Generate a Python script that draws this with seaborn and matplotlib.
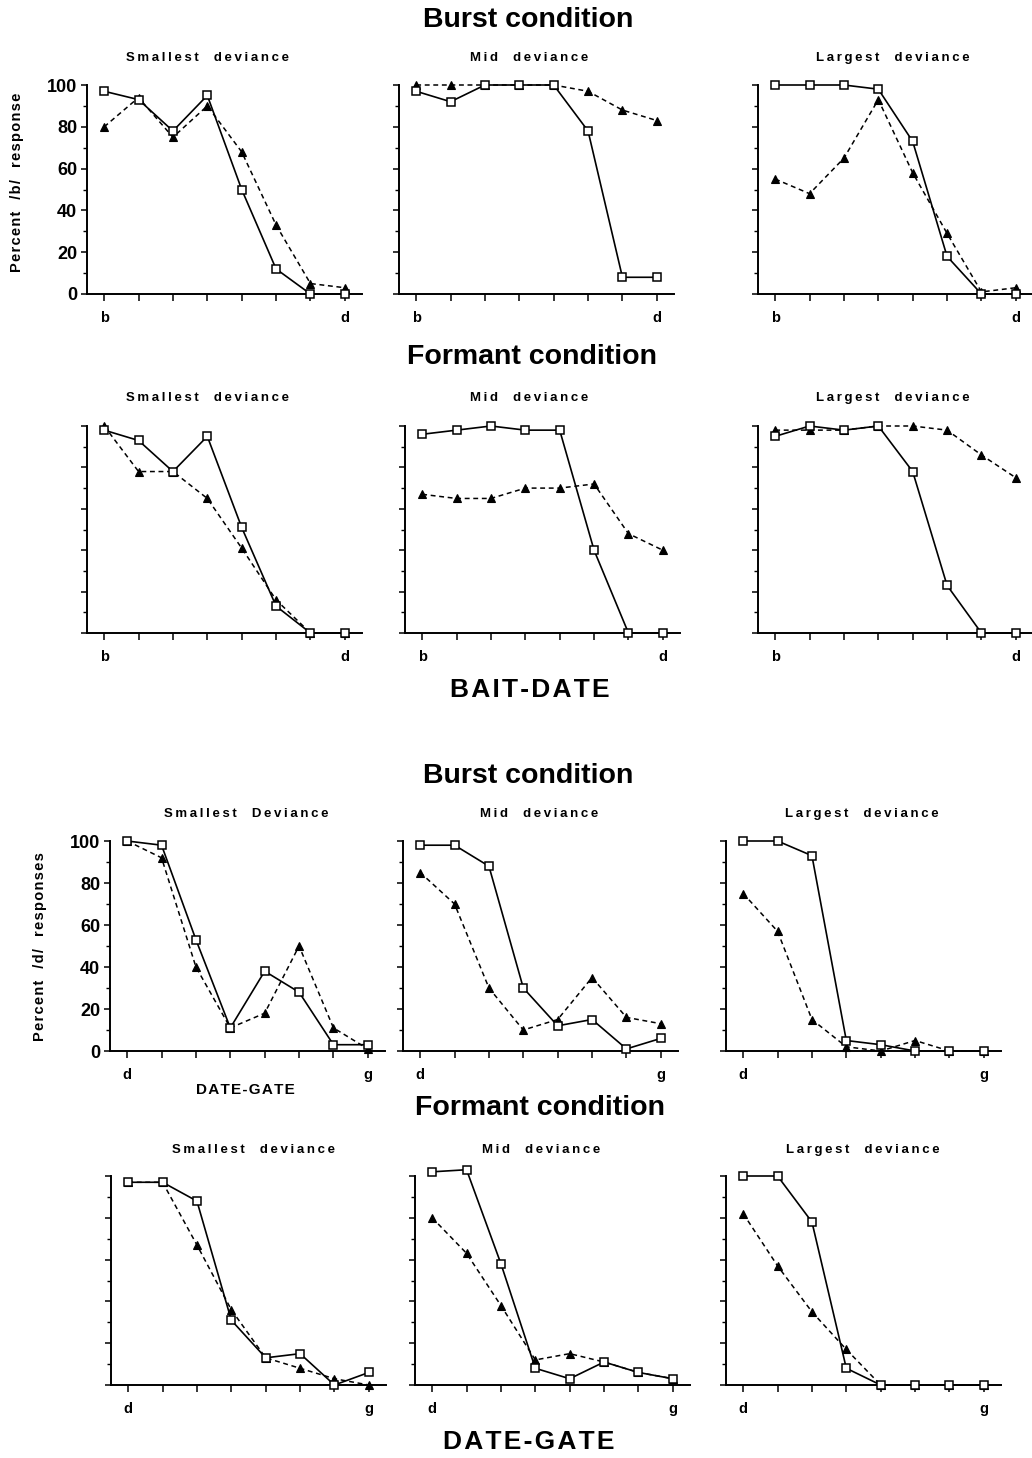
import numpy as np
import pandas as pd
import matplotlib
matplotlib.use("Agg")
import matplotlib.pyplot as plt
import seaborn as sns
from matplotlib.ticker import MultipleLocator

sns.set_theme(style="ticks")
plt.rcParams["font.family"] = ["Liberation Sans", "DejaVu Sans"]
plt.rcParams["font.weight"] = "bold"
plt.rcParams["text.color"] = "black"
plt.rcParams["axes.labelcolor"] = "black"

# ---------------- data ----------------
steps = [1, 2, 3, 4, 5, 6, 7, 8]
bd_labels = ["b", "", "", "", "", "", "", "d"]
dg_labels = ["d", "", "", "", "", "", "", "g"]
panel_titles_bd = ["Smallest  deviance", "Mid  deviance", "Largest  deviance"]
panel_titles_dg_burst = ["Smallest  Deviance", "Mid  deviance", "Largest  deviance"]
panel_titles_dg_formant = ["Smallest  deviance", "Mid  deviance", "Largest  deviance"]

# BAIT-DATE, burst condition (open squares = solid line, filled triangles = dashed line)
bd_burst_small_sq = [97, 93, 78, 95, 50, 12, 0, 0]
bd_burst_small_tri = [80, 94, 75, 90, 68, 33, 5, 3]
bd_burst_mid_sq = [97, 92, 100, 100, 100, 78, 8, 8]
bd_burst_mid_tri = [100, 100, 100, 100, 100, 97, 88, 83]
bd_burst_large_sq = [100, 100, 100, 98, 73, 18, 0, 0]
bd_burst_large_tri = [55, 48, 65, 93, 58, 29, 1, 3]

# BAIT-DATE, formant condition
bd_form_small_sq = [98, 93, 78, 95, 51, 13, 0, 0]
bd_form_small_tri = [100, 78, 78, 65, 41, 16, 0, 0]
bd_form_mid_sq = [96, 98, 100, 98, 98, 40, 0, 0]
bd_form_mid_tri = [67, 65, 65, 70, 70, 72, 48, 40]
bd_form_large_sq = [95, 100, 98, 100, 78, 23, 0, 0]
bd_form_large_tri = [98, 98, 98, 100, 100, 98, 86, 75]

# DATE-GATE, burst condition
dg_burst_small_sq = [100, 98, 53, 11, 38, 28, 3, 3]
dg_burst_small_tri = [100, 92, 40, 11, 18, 50, 11, 1]
dg_burst_mid_sq = [98, 98, 88, 30, 12, 15, 1, 6]
dg_burst_mid_tri = [85, 70, 30, 10, 15, 35, 16, 13]
dg_burst_large_sq = [100, 100, 93, 5, 3, 0, 0, 0]
dg_burst_large_tri = [75, 57, 15, 2, 0, 5, 0, 0]

# DATE-GATE, formant condition
dg_form_small_sq = [97, 97, 88, 31, 13, 15, 0, 6]
dg_form_small_tri = [97, 97, 67, 36, 13, 8, 3, 0]
dg_form_mid_sq = [102, 103, 58, 8, 3, 11, 6, 3]
dg_form_mid_tri = [80, 63, 38, 12, 15, 11, 6, 3]
dg_form_large_sq = [100, 100, 78, 8, 0, 0, 0, 0]
dg_form_large_tri = [82, 57, 35, 17, 0, 0, 0, 0]

# ---------------- figure ----------------
W, H = 1032, 1458
fig = plt.figure(figsize=(W / 100, H / 100), dpi=100)


def spaced(s, sep="\u2009"):
    return sep.join(list(s))


def add_ax(left, top, bottom, width=275):
    return fig.add_axes([left / W, 1 - bottom / H, width / W, (bottom - top) / H])


def ftext(x, y, s, **kw):
    fig.text(x / W, 1 - y / H, s, ha=kw.pop("ha", "center"), va=kw.pop("va", "center"),
             fontweight="bold", color="black", **kw)


def panel(ax, sq, tri, xlabels, show_y):
    df_tri = pd.DataFrame({"step": steps, "pct": tri})
    df_sq = pd.DataFrame({"step": steps, "pct": sq})
    sns.lineplot(data=df_tri, x="step", y="pct", ax=ax, errorbar=None, color="black",
                 linestyle=(0, (3.2, 2.4)), linewidth=1.1, marker="^", markersize=5.5,
                 markerfacecolor="black", markeredgecolor="black", markeredgewidth=0.8,
                 clip_on=False, zorder=3)
    sns.lineplot(data=df_sq, x="step", y="pct", ax=ax, errorbar=None, color="black",
                 linestyle="-", linewidth=1.2, marker="s", markersize=5.2,
                 markerfacecolor="white", markeredgecolor="black", markeredgewidth=1.1,
                 clip_on=False, zorder=4)
    ax.set_xlim(0.5, 8.5)
    ax.set_ylim(0, 100)
    sns.despine(ax=ax)
    for s in ("left", "bottom"):
        ax.spines[s].set_linewidth(1.4)
        ax.spines[s].set_color("black")
    ax.set_xticks(steps)
    ax.set_xticklabels(xlabels)
    ax.yaxis.set_major_locator(MultipleLocator(20))
    ax.yaxis.set_minor_locator(MultipleLocator(10))
    ax.tick_params(axis="x", direction="out", length=5, width=1.1, labelsize=10.5, pad=7,
                   colors="black")
    ax.tick_params(axis="y", which="major", direction="out", length=4, width=1.1,
                   labelsize=13, pad=3, colors="black")
    ax.tick_params(axis="y", which="minor", direction="out", length=3, width=1.0,
                   colors="black")
    if not show_y:
        ax.set_yticklabels([])
    ax.set_xlabel("")
    ax.set_ylabel("")
    ax.set_facecolor("white")


rows = [
    ([87, 399, 758], 85, 294,
     [(bd_burst_small_sq, bd_burst_small_tri), (bd_burst_mid_sq, bd_burst_mid_tri),
      (bd_burst_large_sq, bd_burst_large_tri)], bd_labels, 58, panel_titles_bd,
     [208, 529, 893]),
    ([87, 405, 758], 426, 633,
     [(bd_form_small_sq, bd_form_small_tri), (bd_form_mid_sq, bd_form_mid_tri),
      (bd_form_large_sq, bd_form_large_tri)], bd_labels, 398, panel_titles_bd,
     [208, 529, 893]),
    ([110, 403, 726], 841, 1051,
     [(dg_burst_small_sq, dg_burst_small_tri), (dg_burst_mid_sq, dg_burst_mid_tri),
      (dg_burst_large_sq, dg_burst_large_tri)], dg_labels, 814, panel_titles_dg_burst,
     [246, 539, 862]),
    ([111, 415, 726], 1176, 1385,
     [(dg_form_small_sq, dg_form_small_tri), (dg_form_mid_sq, dg_form_mid_tri),
      (dg_form_large_sq, dg_form_large_tri)], dg_labels, 1150, panel_titles_dg_formant,
     [253, 541, 863]),
]

for r, (lefts, top, bottom, pairs, xl, ty, titles, tx) in enumerate(rows):
    for c in range(3):
        ax = add_ax(lefts[c], top, bottom)
        panel(ax, pairs[c][0], pairs[c][1], xl, show_y=(c == 0 and r in (0, 2)))
        ftext(tx[c], ty, spaced(titles[c]), fontsize=9.5)

# big headings
ftext(528, 20, "Burst condition", fontsize=20.5)
ftext(532, 357, "Formant condition", fontsize=20.5)
ftext(530, 690, spaced("BAIT-DATE", "\u200a"), fontsize=19)
ftext(528, 776, "Burst condition", fontsize=20.5)
ftext(540, 1108, "Formant condition", fontsize=20.5)
ftext(529, 1442, spaced("DATE-GATE", "\u200a"), fontsize=19)
ftext(245, 1090, spaced("DATE-GATE", "\u200a"), fontsize=11)

# y-axis labels
ftext(17, 182, spaced("Percent  /b/  response", "\u200a"), fontsize=10.5, rotation=90)
ftext(40, 947, spaced("Percent  /d/  responses", "\u200a"), fontsize=10.5, rotation=90)

fig.savefig("out.png", dpi=100, facecolor="white")
